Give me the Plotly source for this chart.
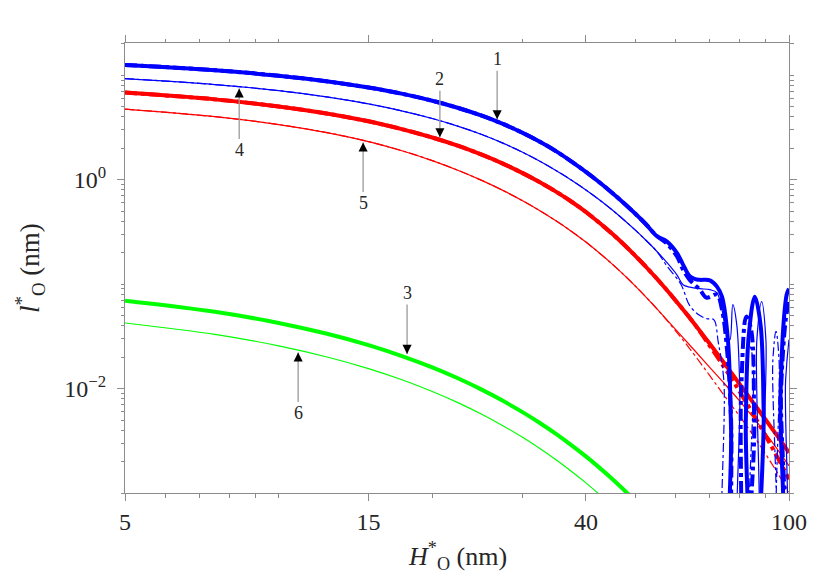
import math
import plotly.graph_objects as go

# H*_O (nm) sample points and l*_O (nm) values
h_grid = [5, 7.5, 10, 12.5, 15, 17.5, 20, 22.5, 25, 27.5, 30, 32.5, 35, 37.5, 40, 42.5, 45, 47.5, 50, 52.5]

# curve 1 (thick blue), solid and dash-dot
h_blue_thick_tail = [55, 57.6, 60.3, 62.0, 63.9, 65.5, 66.9, 70.0, 72.2, 73.9, 75.9, 77.0, 77.9, 81.3, 82.3,
                     83.3, 85.7, 88.0, 89.2, 90.0, 95.2, 96.2, 97.5, 99.0, 100]
l_blue_thick = [12.6, 11.21, 9.91, 8.73, 7.64, 6.65, 5.72, 4.87, 4.11, 3.43, 2.83, 2.31, 1.871, 1.494, 1.190,
                0.946, 0.751, 0.595, 0.472, 0.373,
                0.291, 0.257, 0.199, 0.154, 0.119, 0.1116, 0.110, 0.109, 0.0953, 0.0759, 0.0294, 0.0040, 1e-4,
                1e-4, 0.005, 0.030, 0.076, 0.040, 0.006, 1e-4, 1e-4, 0.008, 0.040, 0.080, 0.0906]
h_blue_thick_dd_tail = [55, 57.6, 60.3, 62.0, 63.9, 66.9, 68.9, 72.2, 73.9, 75.9, 77.0, 78.3, 79.3, 80.6, 82.5,
                        84.3, 85.5, 86.5, 95.0, 96.5, 98.5, 100]
l_blue_thick_dd_tail = [0.291, 0.245, 0.185, 0.138, 0.110, 0.0886, 0.0743, 0.0794, 0.057, 0.019, 0.005, 1e-4,
                        1e-4, 0.0098, 0.0489, 0.0367, 0.005, 1e-4, 1e-4, 0.01, 0.045, 0.07]

# curve 4 (thin blue), solid and dash-dot
l_blue_thin = [9.31, 8.17, 7.14, 6.19, 5.33, 4.55, 3.86, 3.25, 2.714, 2.245, 1.842, 1.505, 1.223, 0.991, 0.799,
               0.643, 0.516, 0.412, 0.329, 0.262]
h_blue_thin_tail = [55, 57.6, 60.3, 62.0, 64.0, 66.9, 70.0, 72.2, 73.9, 75.5, 76.6, 77.6, 79.0, 80.1, 81.0,
                    84.9, 86.5, 88.4, 90.1, 91.1, 96.3, 98.5, 100]
l_blue_thin_tail = [0.208, 0.162, 0.123, 0.0989, 0.0936, 0.0905, 0.0886, 0.0829, 0.057, 0.0329, 0.0294, 0.0637,
                    0.041, 0.0098, 1e-4, 1e-4, 0.0294, 0.068, 0.0294, 1e-4, 1e-4, 0.0122, 0.0294]
h_blue_thin_dd_tail = [55, 57.6, 61.4, 63.9, 66.9, 69.0, 71.2, 72.7, 74.5, 76.0, 80.6, 82.2, 83.5, 85.0, 85.8,
                       91.5, 93.0, 94.3, 95.6, 96.5, 100]
l_blue_thin_dd_tail = [0.208, 0.150, 0.100, 0.0623, 0.050, 0.0468, 0.0457, 0.0275, 0.0122, 1e-4, 1e-4, 0.0079,
                       0.0263, 0.019, 1e-4, 1e-4, 0.019, 0.0353, 0.019, 1e-4, 1e-4]

# curves 2 and 5 (thick and thin red)
h_red = [5, 7.5, 10, 12.5, 15, 17.5, 20, 22.5, 25, 27.5, 30, 32.5, 35, 37.5, 40, 45, 50, 55, 60, 65, 70, 75,
         80, 85, 90, 95, 100]
l_red_thick = [6.84, 5.89, 5.04, 4.29, 3.63, 3.04, 2.54, 2.11, 1.74, 1.43, 1.165, 0.947, 0.766, 0.616, 0.491,
               0.305, 0.187, 0.114, 0.0695, 0.0428, 0.0267, 0.0170, 0.0111, 0.00739, 0.00503, 0.00348, 0.00243]
l_red_thick_dd = [6.84, 5.89, 5.04, 4.29, 3.63, 3.04, 2.54, 2.11, 1.74, 1.43, 1.165, 0.947, 0.766, 0.616, 0.491,
                  0.305, 0.187, 0.114, 0.0695, 0.0428, 0.0255, 0.0155, 0.00938, 0.00574, 0.00352, 0.00218,
                  0.00135]
l_red_thin = [4.75, 4.017, 3.38, 2.817, 2.323, 1.888, 1.527, 1.228, 0.986, 0.791, 0.633, 0.506, 0.403, 0.320,
              0.253, 0.1565, 0.0959, 0.0587, 0.0367, 0.0238, 0.0159, 0.01095, 0.00764, 0.00533, 0.00372,
              0.00260, 0.00182]
l_red_thin_dd = [4.75, 4.017, 3.38, 2.817, 2.323, 1.888, 1.527, 1.228, 0.986, 0.791, 0.633, 0.506, 0.403, 0.320,
                 0.253, 0.1565, 0.0959, 0.0587, 0.0356, 0.0216, 0.01324, 0.00832, 0.00546, 0.00359, 0.00236,
                 0.00155, 0.00102]

# curves 3 and 6 (thick and thin green)
h_green = [5, 7.5, 10, 12.5, 15, 17.5, 20, 22.5, 25, 27.5, 30, 32.5, 35, 37.5, 40, 42.5, 45, 47.5, 50]
l_green_thick = [0.0695, 0.0544, 0.04255, 0.0333, 0.02606, 0.02039, 0.01595, 0.01248, 0.00977, 0.00764,
                 0.00598, 0.00468, 0.00366, 0.00286, 0.00224, 0.00175, 0.00137, 0.00107, 0.00084]
l_green_thin = [0.0425, 0.03304, 0.02569, 0.01997, 0.01553, 0.01207, 0.00938, 0.00730, 0.00567, 0.00441,
                0.00343, 0.00267, 0.00207, 0.00161, 0.00125, 0.00097, 0.00076]

x_ticks = [5, 15, 40, 100]
y_ticks = [1e-2, 1]
y_tick_text = ["10<sup>\u22122</sup>", "10<sup>0</sup>"]

# curve labels: text, tip (H, l), label offset in px (negative = above)
labels = [("1", 26.8, 3.8, -60), ("2", 20.7, 2.55, -58), ("3", 17.85, 0.0215, -61),
          ("4", 8.37, 7.5, 62), ("5", 14.64, 2.28, 61), ("6", 10.92, 0.0222, 61)]

BLUE, RED, GREEN = "#0000ff", "#ff0000", "#00ff00"
FONT = "Liberation Serif"

fig = go.Figure()


def add_line(h, l, color, width, dash="solid"):
    fig.add_trace(go.Scatter(x=h, y=l, mode="lines", line=dict(color=color, width=width, dash=dash,
                                                                 shape="spline", smoothing=1),
                             showlegend=False, hoverinfo="skip"))


add_line(h_green[:len(l_green_thin)], l_green_thin, GREEN, 1.2)
add_line(h_green, l_green_thick, GREEN, 4)
add_line(h_red, l_red_thin_dd, RED, 1.2, "dashdot")
add_line(h_red, l_red_thin, RED, 1.2)
add_line(h_red, l_red_thick_dd, RED, 4, "dashdot")
add_line(h_red, l_red_thick, RED, 4)
add_line(h_grid + h_blue_thin_dd_tail, l_blue_thin + l_blue_thin_dd_tail, BLUE, 1.2, "dashdot")
add_line(h_grid + h_blue_thin_tail, l_blue_thin + l_blue_thin_tail, BLUE, 1.2)
add_line(h_grid + h_blue_thick_dd_tail, l_blue_thick[:len(h_grid)] + l_blue_thick_dd_tail, BLUE, 4, "dashdot")
add_line(h_grid + h_blue_thick_tail, l_blue_thick, BLUE, 4)

annotations = []
for txt, hx, ly, off in labels:
    # grey shaft with the number at its tail
    annotations.append(dict(x=math.log10(hx), y=math.log10(ly), xref="x", yref="y", text=txt,
                            showarrow=True, arrowhead=0, arrowwidth=1.3, arrowcolor="#9a9a9a",
                            ax=0, ay=off, standoff=0, font=dict(family=FONT, size=18, color="#262626")))
    # black head at the tip
    annotations.append(dict(x=math.log10(hx), y=math.log10(ly), xref="x", yref="y", text="",
                            showarrow=True, arrowhead=2, arrowsize=1.4, arrowwidth=1.3, arrowcolor="black",
                            ax=0, ay=9 if off > 0 else -9, standoff=0))

annotations.append(dict(x=0.5, y=0, xref="paper", yref="paper", yshift=-63, showarrow=False,
                        text="<i>H</i><sup>*</sup><sub>O</sub> (nm)", yanchor="middle",
                        font=dict(family=FONT, size=26, color="#262626")))
annotations.append(dict(x=0, y=0.5, xref="paper", yref="paper", xshift=-95, showarrow=False,
                        text="<i>l</i><sup>*</sup><sub>O</sub> (nm)", textangle=-90, xanchor="center",
                        font=dict(family=FONT, size=27, color="#262626")))

axis_common = dict(type="log", showgrid=False, zeroline=False, showline=True, linecolor="#8c8c8c",
                   linewidth=1, mirror="allticks", ticks="outside", ticklen=7, tickcolor="#8c8c8c",
                   tickfont=dict(family=FONT, size=24, color="#262626"))

# the page body adds an 8 px offset, so the figure is 8 px smaller with shifted margins
fig.update_layout(
    width=822, height=573,
    margin=dict(l=117, r=41, t=35, b=88),
    paper_bgcolor="white", plot_bgcolor="white",
    xaxis=dict(range=[math.log10(5), 2], tickvals=x_ticks, ticktext=[str(v) for v in x_ticks],
               ticklabelstandoff=0,
               minor=dict(ticks="outside", ticklen=3.5, tickcolor="#8c8c8c",
                          tickvals=[6, 7, 8, 9, 10, 20, 30, 50, 60, 70, 80, 90]),
               **axis_common),
    yaxis=dict(range=[-3, 1.31], tickvals=y_ticks, ticktext=y_tick_text, ticklabelstandoff=6,
               minor=dict(ticks="outside", ticklen=3.5, tickcolor="#8c8c8c",
                          tickvals=[k * 10.0 ** e for e in (-3, -2, -1, 0, 1) for k in range(1, 10)
                                    if k * 10.0 ** e <= 20]),
               **axis_common),
    annotations=annotations,
)

fig.write_html("out.html")
